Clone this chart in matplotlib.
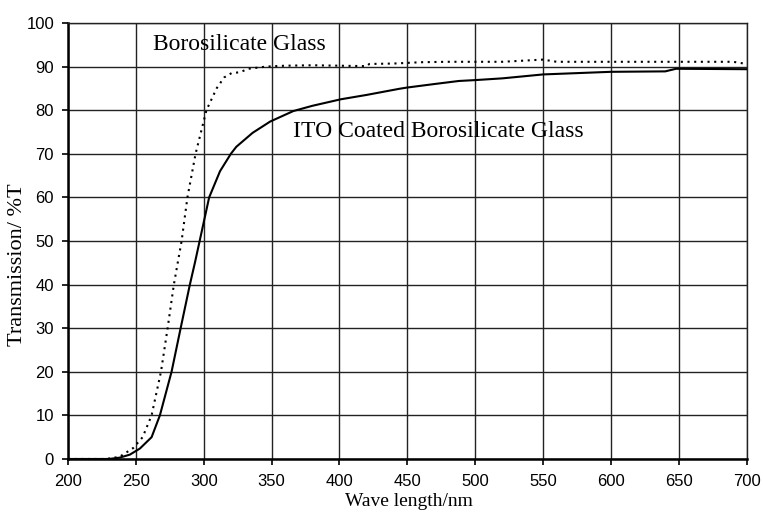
import numpy as np
import matplotlib
matplotlib.use('Agg')
import matplotlib.pyplot as plt

# values
wl_boro = [200, 228, 238, 248, 255, 261.6, 268.5, 273.4, 278, 283.7, 288, 294, 302, 309.5,
           315, 320.5, 326.6, 333, 346, 360, 380, 400, 420, 422, 440, 460, 480, 500, 520,
           550, 560, 600, 650, 690, 700]
t_boro = [0, 0, 0.5, 2.5, 5, 10, 20, 30, 40, 50, 60, 70, 80, 85,
          87.5, 88.5, 88.7, 89.5, 90, 90.2, 90.3, 90.2, 90.1, 90.6, 90.7, 91.0, 91.1, 91.1, 91.1,
          91.6, 91.1, 91.1, 91.1, 91.1, 90.6]

wl_ito = [200, 230, 238, 245.6, 253, 261.6, 267.7, 276.3, 283, 289.8, 293.5, 297, 304, 312,
          320, 324, 336, 341, 349, 366, 380, 401, 420, 444, 450, 470, 488, 500, 520, 550,
          575, 600, 640, 648, 700]
t_ito = [0, 0, 0.3, 1, 2.4, 5, 10, 20, 30, 40, 45, 50, 60, 66,
         70, 71.6, 74.8, 75.8, 77.4, 79.8, 81, 82.5, 83.5, 84.9, 85.2, 86, 86.7, 86.9, 87.3, 88.2,
         88.5, 88.8, 88.9, 89.5, 89.4]

x_ticks = np.arange(200, 701, 50)
y_ticks = np.arange(0, 101, 10)

fig = plt.figure(figsize=(7.63, 5.13), dpi=100)
ax = fig.add_axes([0.0891, 0.1053, 0.8895, 0.8499])

ax.plot(wl_boro, t_boro, color='black', lw=1.5, linestyle=(0, (1, 2.2)), zorder=3)
ax.plot(wl_ito, t_ito, color='black', lw=1.5, zorder=3)

ax.set_xlim(200, 700)
ax.set_ylim(0, 100)
ax.set_xticks(x_ticks)
ax.set_yticks(y_ticks)
ax.grid(True, color='#222222', lw=1.0)
ax.set_axisbelow(True)

for s in ['top', 'right']:
    ax.spines[s].set_linewidth(1.0)
    ax.spines[s].set_color('#222222')
for s in ['left', 'bottom']:
    ax.spines[s].set_linewidth(1.8)

ax.tick_params(axis='both', direction='out', length=4, width=1.2, labelsize=12)
ax.tick_params(axis='x', pad=7)
ax.tick_params(axis='y', pad=6)
for lab in ax.get_xticklabels() + ax.get_yticklabels():
    lab.set_fontfamily('Liberation Sans')

ax.set_xlabel('Wave length/nm', fontfamily='Liberation Serif', fontsize=14)
ax.set_ylabel('Transmission/ %T', fontfamily='Liberation Serif', fontsize=16)
ax.xaxis.set_label_coords(0.502, -0.079)
ax.yaxis.set_label_coords(-0.060, 0.445)

ax.text(262.6, 95, 'Borosilicate Glass', fontfamily='Liberation Serif', fontsize=17,
        va='center', ha='left')
ax.text(365.7, 75, 'ITO Coated Borosilicate Glass', fontfamily='Liberation Serif', fontsize=17,
        va='center', ha='left')

fig.savefig('out.png', dpi=100)
